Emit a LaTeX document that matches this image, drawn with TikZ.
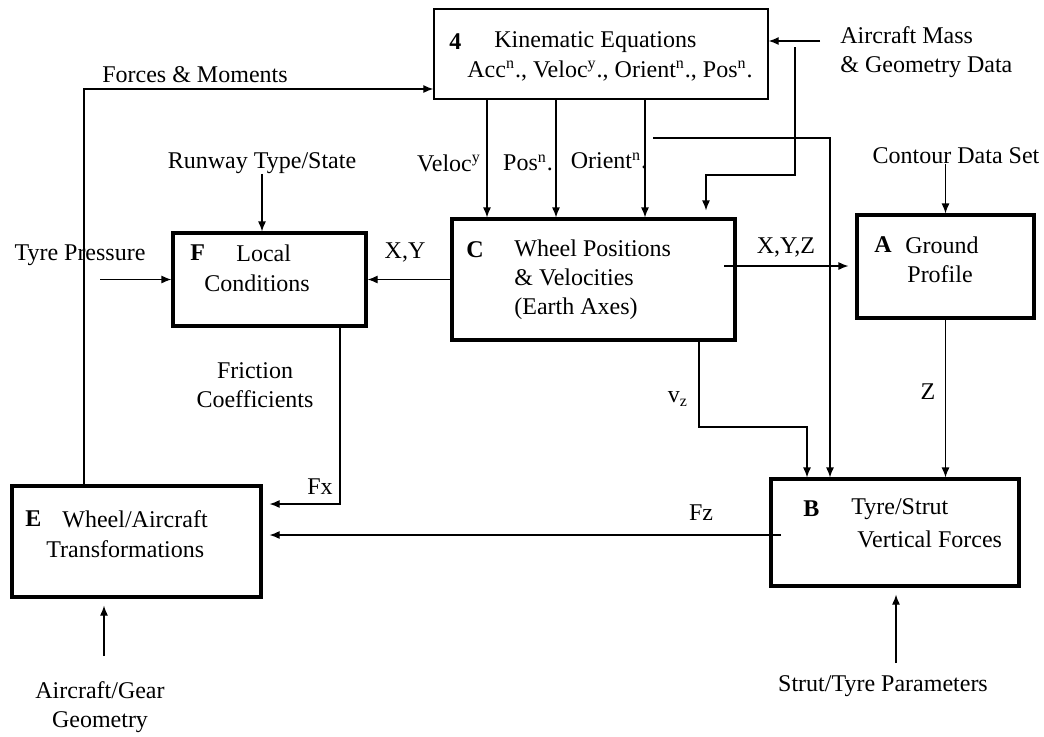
\documentclass[tikz,border=0pt]{standalone}
\usepackage{fontspec}
\setmainfont{Liberation Serif}
\usetikzlibrary{arrows.meta}

\begin{document}
\begin{tikzpicture}[x=0.5pt,y=-0.5pt,
    font=\fontsize{12}{14.5}\selectfont,
    blk/.style={draw,line width=1.6pt,inner sep=0pt},
    kinbox/.style={draw,line width=0.7pt,inner sep=0pt},
    lbl/.style={inner sep=0pt},
    flow/.style={line width=0.6pt,-{Latex[length=5pt,width=4pt]}},
    gap/.style={shorten >=3.5pt}]
  \useasboundingbox (0,0) rectangle (1044,736);

  \path
  (601,54) node[kinbox,minimum width=167pt,minimum height=45pt](kin) {}
  (593.5,279.5) node[blk,minimum width=141.5pt,minimum height=60.5pt](C) {}
  (269.5,279.5) node[blk,minimum width=96.5pt,minimum height=46.5pt](F) {}
  (945.5,266.5) node[blk,minimum width=88.5pt,minimum height=51.5pt](A) {}
  (136.5,541.5) node[blk,minimum width=124.5pt,minimum height=55.5pt](E) {}
  (895,532.5) node[blk,minimum width=124pt,minimum height=53.5pt](B) {}
  ;

  % texts inside the blocks
  \path
  (449,42) node[lbl,anchor=west](kinid) {\textbf{4}}
  (494,42) node[lbl,anchor=west](kintitle) {Kinematic Equations}
  (467,71) node[lbl,anchor=west](kinout) {Acc\textsuperscript{n}., Veloc\textsuperscript{y}., Orient\textsuperscript{n}., Pos\textsuperscript{n}.}
  (466,250) node[lbl,anchor=west](Cid) {\textbf{C}}
  (514,279.5) node[lbl,anchor=west,align=left](Ctext) {Wheel Positions\\ \& Velocities\\ (Earth Axes)}
  (190,253) node[lbl,anchor=west](Fid) {\textbf{F}}
  (236,253) node[lbl,anchor=west](Ftext) {Local}
  (204,283) node[lbl,anchor=west](Ftext2) {Conditions}
  (874,245) node[lbl,anchor=west](Aid) {\textbf{A}}
  (905,245) node[lbl,anchor=west](Atext) {Ground}
  (907,274) node[lbl,anchor=west](Atext2) {Profile}
  (25,519) node[lbl,anchor=west](Eid) {\textbf{E}}
  (62,519) node[lbl,anchor=west](Etext) {Wheel/Aircraft}
  (46,549) node[lbl,anchor=west](Etext2) {Transformations}
  (803,509) node[lbl,anchor=west](Bid) {\textbf{B}}
  (851,509) node[lbl,anchor=west](Btext) {Tyre/Strut}
  (857,539) node[lbl,anchor=west](Btext2) {Vertical Forces}
  ;

  % inputs and labels
  \path
  (840,52) node[lbl,anchor=west,align=left](massin) {Aircraft Mass\\ \& Geometry Data}
  (195,75) node[lbl](forces) {Forces \& Moments}
  (262,163) node[lbl](runway) {Runway Type/State}
  (80,255) node[lbl](tyrep) {Tyre Pressure}
  (956,156) node[lbl](contour) {Contour Data Set}
  (449,163) node[lbl](velo) {Veloc\textsuperscript{y}}
  (528,163) node[lbl](pos) {Pos\textsuperscript{n}.}
  (609,161) node[lbl](orient) {Orient\textsuperscript{n}.}
  (405,252) node[lbl](xy) {X,Y}
  (786,247) node[lbl](xyzl) {X,Y,Z}
  (928,392) node[lbl](zl) {Z}
  (678,399) node[lbl](vzl) {v\textsubscript{z}}
  (255,385) node[lbl,align=center](fric) {Friction\\ Coefficients}
  (320,487) node[lbl](fxl) {Fx}
  (701,513) node[lbl](fzl) {Fz}
  (883,686) node[lbl](strutp) {Strut/Tyre Parameters}
  (100,707) node[lbl,align=center](acgeo) {Aircraft/Gear\\ Geometry}
  ;

  \path
  (820,41) coordinate(massA)
  (795,47) coordinate(massB)
  (706,175) coordinate(massC)
  (653,138) coordinate(orA)
  (830,138) coordinate(orB)
  (84,89) coordinate(fm)
  (100,279.5) coordinate(tp)
  (724,266) coordinate(xyz)
  (699,427) coordinate(vzA)
  (807,427) coordinate(vzB)
  (340,504) coordinate(fx)
  (781,535) coordinate(fz)
  (104,656) coordinate(geo)
  (896,663) coordinate(strut)
  ;

  \draw[flow] (massA) -- (massA -| kin.east);
  \draw[flow,gap] (massB) -- (massB |- massC) -- (massC) -- (massC |- C.north);
  \foreach \x in {487,556,645}
    \draw[flow] (kin.south -| \x,0) -- (C.north -| \x,0);
  \draw[flow] (orA) -- (orB) -- (orB |- B.north);
  \draw[flow] (E.north -| fm) -- (fm) -- (fm -| kin.west);
  \draw[flow] (runway.south) -- (runway.south |- F.north);
  \draw[flow] (tp) -- (tp -| F.west);
  \draw[flow] (C.west) -- (F.east);
  \draw[flow,gap] (xyz) -- (xyz -| A.west);
  \draw[flow] (contour.base -| A.north) -- (A.north);
  \draw[flow] (A.south) -- (A.south |- B.north);
  \draw[flow] (C.south -| vzA) -- (vzA) -- (vzB) -- (vzB |- B.north);
  \draw[flow,gap] (F.south -| fx) -- (fx) -- (fx -| E.east);
  \draw[flow,gap] (fz) -- (fz -| E.east);
  \draw[flow,gap] (geo) -- (geo |- E.south);
  \draw[flow,gap] (strut) -- (strut |- B.south);
\end{tikzpicture}
\end{document}
